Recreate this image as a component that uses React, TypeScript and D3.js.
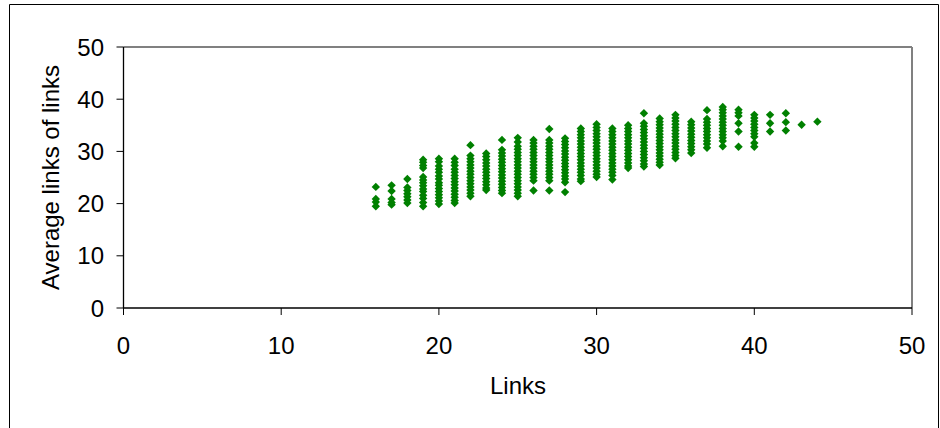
import React from "react";
import * as d3 from "d3";

const links: number[] = [16,17,18,19,20,21,22,23,24,25,26,27,28,29,30,31,32,33,34,35,36,37,38,39,40,41,42,43,44];
const avgLinks: number[][] = [
  [23.2, 20.9, 20.3, 19.5],
  [23.5, 22.4, 20.9, 20.2, 19.8],
  [24.7, 23.1, 22.5, 21.9, 21.3, 20.7, 20.1],
  [28.4, 27.9, 27.3, 26.8, 25.1, 24.5, 24.0, 23.4, 22.8, 22.3, 21.6, 21.0, 20.2, 19.5],
  [28.6, 28.0, 27.2, 26.6, 26.0, 25.3, 24.7, 24.0, 23.5, 22.9, 22.3, 21.7, 21.1, 20.5, 19.9],
  [28.6, 27.9, 27.3, 26.6, 26.0, 25.4, 24.8, 24.2, 23.6, 23.0, 22.4, 21.8, 21.2, 20.6, 20.1],
  [31.2, 29.2, 28.6, 28.0, 27.4, 26.8, 26.2, 25.6, 25.0, 24.4, 23.8, 23.2, 22.6, 22.0, 21.4],
  [29.6, 29.0, 28.4, 27.8, 27.2, 26.6, 26.0, 25.4, 24.8, 24.2, 23.6, 23.0, 22.6],
  [32.2, 30.3, 29.7, 29.1, 28.5, 27.9, 27.3, 26.7, 26.1, 25.5, 24.9, 24.3, 23.7, 23.1, 22.5, 22.0],
  [32.6, 31.8, 31.0, 30.4, 29.8, 29.2, 28.6, 28.0, 27.4, 26.8, 26.2, 25.6, 25.0, 24.4, 23.8, 23.2, 22.6, 22.0, 21.4],
  [32.2, 31.6, 31.0, 30.4, 29.8, 29.2, 28.6, 28.0, 27.4, 26.8, 26.2, 25.6, 25.0, 24.4, 22.5],
  [34.3, 32.2, 31.6, 31.0, 30.4, 29.8, 29.2, 28.6, 28.0, 27.4, 26.8, 26.2, 25.6, 25.0, 24.4, 22.5],
  [32.5, 31.9, 31.3, 30.7, 30.1, 29.5, 28.9, 28.3, 27.7, 27.1, 26.5, 25.9, 25.3, 24.7, 24.1, 22.2],
  [34.4, 33.8, 33.2, 32.6, 32.0, 31.4, 30.8, 30.2, 29.6, 29.0, 28.4, 27.8, 27.2, 26.6, 26.0, 25.4, 24.7, 24.3],
  [35.2, 34.6, 34.0, 33.4, 32.8, 32.2, 31.6, 31.0, 30.4, 29.8, 29.2, 28.6, 28.0, 27.4, 26.8, 26.2, 25.6, 25.1],
  [34.4, 33.8, 33.2, 32.6, 32.0, 31.4, 30.8, 30.2, 29.6, 29.0, 28.4, 27.8, 27.2, 26.6, 26.0, 25.4, 24.6],
  [35.0, 34.4, 33.8, 33.2, 32.6, 32.0, 31.4, 30.8, 30.2, 29.6, 29.0, 28.4, 27.8, 27.2, 26.8],
  [37.3, 35.4, 34.8, 34.2, 33.6, 33.0, 32.4, 31.8, 31.2, 30.6, 30.0, 29.4, 28.8, 28.2, 27.6, 27.1],
  [36.3, 35.7, 35.1, 34.5, 33.9, 33.3, 32.7, 32.1, 31.5, 30.9, 30.3, 29.7, 29.1, 28.5, 27.9, 27.4],
  [37.0, 36.4, 35.8, 35.2, 34.6, 34.0, 33.4, 32.8, 32.2, 31.6, 31.0, 30.4, 29.8, 29.2, 28.7],
  [35.7, 35.1, 34.5, 33.9, 33.3, 32.7, 32.1, 31.5, 30.9, 30.3, 29.7],
  [37.9, 36.2, 35.6, 35.0, 34.4, 33.8, 33.2, 32.6, 32.0, 31.4, 30.7],
  [38.5, 38.0, 37.4, 36.8, 36.2, 35.6, 35.0, 34.4, 33.8, 33.2, 32.6, 32.0, 31.0],
  [38.0, 37.4, 36.8, 35.4, 33.8, 30.9],
  [37.0, 36.4, 35.8, 35.2, 34.6, 34.0, 33.4, 32.8, 31.6, 30.9],
  [37.0, 35.4, 33.8],
  [37.3, 35.6, 34.0],
  [35.1],
  [35.7],
];
const xTicks: number[] = [0, 10, 20, 30, 40, 50];
const yTicks: number[] = [0, 10, 20, 30, 40, 50];

export default function App() {
  const W = 940, H = 428;
  const left = 123.5, right = 912, top = 47, bottom = 308;
  const x = d3.scaleLinear().domain([0, 50]).range([left, right]);
  const y = d3.scaleLinear().domain([0, 50]).range([bottom, top]);
  const font = "'Liberation Sans', Arial, sans-serif";
  const fs = 24;
  const points: { cx: number; cy: number }[] = [];
  links.forEach((lx, i) => avgLinks[i].forEach((v) => points.push({ cx: x(lx), cy: y(v) })));
  const r = 4.2;
  return (
    <svg width={W} height={H} style={{ position: "absolute", left: 0, top: 0 }} fontFamily={font}>
      <rect x={0} y={0} width={W} height={H} fill="#fff" />
      <path d={`M9.5,${H + 2}V4.5H938.5V${H + 2}`} fill="none" stroke="#000" strokeWidth={1} />
      <line x1={left} x2={right} y1={top} y2={top} stroke="#808080" strokeWidth={2} />
      <line x1={right} x2={right} y1={top} y2={bottom} stroke="#808080" strokeWidth={2} />
      <line x1={left} x2={left} y1={top} y2={bottom} stroke="#000" strokeWidth={1.3} />
      <line x1={left} x2={right} y1={bottom} y2={bottom} stroke="#000" strokeWidth={1.3} />
      {yTicks.map((t) => (
        <g key={"y" + t}>
          <line x1={left - 7} x2={left} y1={y(t)} y2={y(t)} stroke="#000" strokeWidth={1} />
          <text x={104} y={y(t)} dy="0.36em" textAnchor="end" fontSize={fs}>{t}</text>
        </g>
      ))}
      {xTicks.map((t) => (
        <g key={"x" + t}>
          <line x1={x(t)} x2={x(t)} y1={bottom} y2={bottom + 7} stroke="#000" strokeWidth={1} />
          <text x={x(t)} y={354} textAnchor="middle" fontSize={fs}>{t}</text>
        </g>
      ))}
      {points.map((p, i) => (
        <path key={i} d={`M${p.cx},${p.cy - r}L${p.cx + r},${p.cy}L${p.cx},${p.cy + r}L${p.cx - r},${p.cy}Z`} fill="#008000" />
      ))}
      <text x={518} y={394} textAnchor="middle" fontSize={fs}>Links</text>
      <text transform={`translate(59,${(top + bottom) / 2}) rotate(-90)`} textAnchor="middle" fontSize={fs}>Average links of links</text>
    </svg>
  );
}
